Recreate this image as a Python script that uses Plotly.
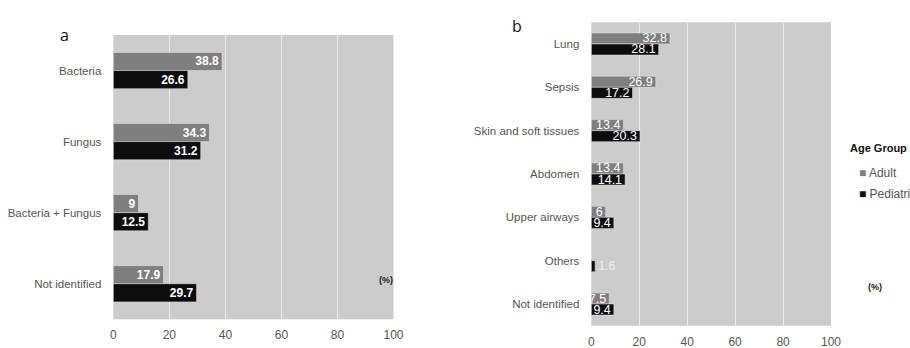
import plotly.graph_objects as go

# Panel a data
cats_a = ["Bacteria", "Fungus", "Bacteria + Fungus", "Not identified"]
adult_a = [38.8, 34.3, 9, 17.9]
ped_a = [26.6, 31.2, 12.5, 29.7]

# Panel b data
cats_b = ["Lung", "Sepsis", "Skin and soft tissues", "Abdomen", "Upper airways", "Others", "Not identified"]
adult_b = [32.8, 26.9, 13.4, 13.4, 6, None, 7.5]
ped_b = [28.1, 17.2, 20.3, 14.1, 9.4, 1.6, 9.4]

tick_vals = [0, 20, 40, 60, 80, 100]
series_names = ["Adult", "Pediatric"]

ADULT = "#7f7f7f"
PED = "#0d0d0d"
FONT = "Liberation Sans, Arial, sans-serif"

W, H = 910, 348
def px(x):
    return x / W
def py(y):
    return 1 - y / H

def fmt(v):
    return "" if v is None else ("%g" % v)

fig = go.Figure()

fig.add_trace(go.Bar(
    y=cats_a, x=adult_a, orientation="h", name=series_names[0], marker_color=ADULT,
    text=[fmt(v) for v in adult_a], textposition="inside", insidetextanchor="end", textangle=0,
    constraintext="none", textfont=dict(color="white", size=12, family=FONT, weight="bold"),
    xaxis="x", yaxis="y", showlegend=False, offsetgroup="1", hoverinfo="skip"))
fig.add_trace(go.Bar(
    y=cats_a, x=ped_a, orientation="h", name=series_names[1], marker_color=PED,
    text=[fmt(v) for v in ped_a], textposition="inside", insidetextanchor="end", textangle=0,
    constraintext="none", textfont=dict(color="white", size=12, family=FONT, weight="bold"),
    xaxis="x", yaxis="y", showlegend=False, offsetgroup="2", hoverinfo="skip"))

fig.add_trace(go.Bar(
    y=cats_b, x=adult_b, orientation="h", name=series_names[0], marker_color=ADULT,
    text=[fmt(v) for v in adult_b], textposition="inside", insidetextanchor="end", textangle=0,
    constraintext="none", textfont=dict(color="white", size=12.5, family=FONT),
    xaxis="x2", yaxis="y2", showlegend=False, offsetgroup="1", hoverinfo="skip"))
ped_pos = ["outside" if v is not None and v < 3 else "inside" for v in ped_b]
fig.add_trace(go.Bar(
    y=cats_b, x=ped_b, orientation="h", name=series_names[1], marker_color=PED,
    text=[fmt(v) for v in ped_b], textposition=ped_pos, insidetextanchor="end", textangle=0,
    constraintext="none", textfont=dict(color="white", size=12.5, family=FONT),
    outsidetextfont=dict(color="#eeeeee", size=12.5, family=FONT),
    cliponaxis=False,
    xaxis="x2", yaxis="y2", showlegend=False, offsetgroup="2", hoverinfo="skip"))

axis_common = dict(
    range=[0, 100], tickvals=tick_vals, showgrid=True, gridcolor="#ececec", gridwidth=1,
    zeroline=False, showline=False, ticks="", tickfont=dict(size=12, color="#555555", family=FONT),
    ticklabelstandoff=7, fixedrange=True,
)
yaxis_common = dict(
    autorange="reversed", showgrid=False, zeroline=False, ticks="", showline=False,
    tickfont=dict(size=11.5, color="#555555", family=FONT), ticklabelstandoff=11, fixedrange=True,
)

legend_ann = [
    dict(text="<b>Age Group</b>", x=px(848), y=py(148), xanchor="left", yanchor="middle",
         font=dict(size=11, color="#111111", family=FONT)),
    dict(text='<span style="color:%s">■</span> %s' % (ADULT, series_names[0]), x=px(857), y=py(173),
         xanchor="left", yanchor="middle", font=dict(size=12, color="#555555", family=FONT)),
    dict(text='<span style="color:%s">■</span> %s' % (PED, series_names[1]), x=px(857), y=py(194),
         xanchor="left", yanchor="middle", font=dict(size=12, color="#555555", family=FONT)),
]
for a in legend_ann:
    a.update(xref="paper", yref="paper", showarrow=False)

fig.update_layout(
    width=W, height=H,
    margin=dict(l=0, r=0, t=0, b=0, autoexpand=False),
    paper_bgcolor="white", plot_bgcolor="#cccccc",
    barmode="group", bargap=0.49, bargroupgap=0,
    font=dict(family=FONT, color="#555555"),
    xaxis=dict(domain=[px(113.3), px(393.5)], anchor="y", **axis_common),
    yaxis=dict(domain=[py(319.3), py(35)], anchor="x", **yaxis_common),
    xaxis2=dict(domain=[px(591.3), px(831)], anchor="y2", **axis_common),
    yaxis2=dict(domain=[py(325.7), py(22.3)], anchor="x2", **yaxis_common),
    showlegend=False,
    annotations=[
        dict(text="a", x=px(58), y=py(22), xref="paper", yref="paper", showarrow=False,
             font=dict(size=16, color="#111111", family="Open Sans, sans-serif")),
        dict(text="b", x=px(517), y=py(13), xref="paper", yref="paper", showarrow=False,
             font=dict(size=16, color="#111111", family="Open Sans, sans-serif")),
        dict(text="<b>(%)</b>", x=px(386), y=py(287), xref="paper", yref="paper", showarrow=False,
             font=dict(size=9, color="#222222", family=FONT)),
        dict(text="<b>(%)</b>", x=px(884), y=py(294), xref="paper", yref="paper", showarrow=False,
             font=dict(size=9, color="#222222", family=FONT)),
    ] + legend_ann,
)

fig.write_html(
    "out.html",
    config={"displayModeBar": False},
    post_script="document.body.style.margin='0';document.body.style.overflow='hidden';",
)
